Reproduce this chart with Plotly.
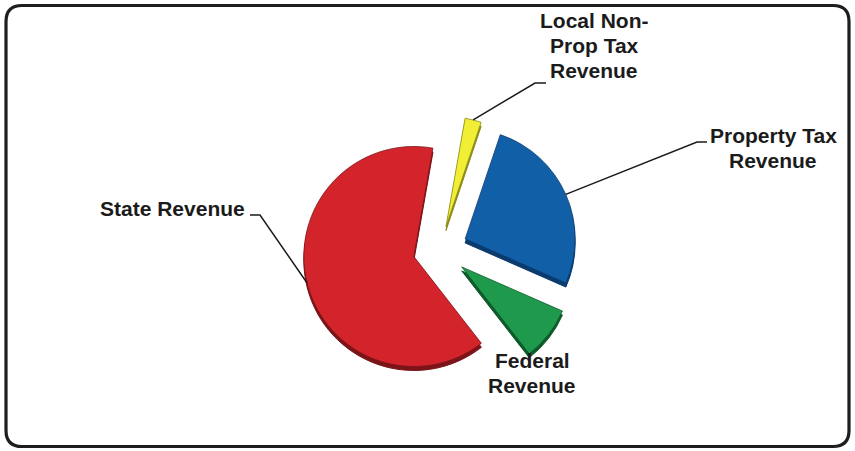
import math
import plotly.graph_objects as go

# Revenue sources (percent of total), listed clockwise from the starting angle
labels = ["Local Non-Prop Tax Revenue", "Property Tax Revenue", "Federal Revenue", "State Revenue"]
values = [2.4, 26.4, 7.9, 63.3]
pulls = [0.22, 0.25, 0.25, 0.245]
colors = ["#f1ee36", "#115fa6", "#1f9a4c", "#d3232b"]
edge_colors = ["#8c8a14", "#0a3a6e", "#0e5a2a", "#7a1418"]
label_lines = [
    ["Local Non-", "Prop Tax", "Revenue"],
    ["Property Tax", "Revenue"],
    ["Federal", "Revenue"],
    ["State Revenue"],
]

W, H = 855, 451
START_ANGLE = 10          # degrees clockwise from 12 o'clock
CX, CY = 440, 250         # pie centre in pixels
BOX = 275                 # side of the square the pie is fitted into
DEPTH = 4                 # thickness of the darker "3D" rim
FONT = dict(family="Arial, Liberation Sans, sans-serif", size=21, color="#1b1b1b", weight="bold")
LINE_STEP = 25            # px between label lines

# label block centres (px) and the leader-line elbows that start at the label
label_centres = [(594, 45.5), (773, 148), (532, 372.5), (172.5, 209)]
leader_elbows = [
    [(546, 83), (535, 83)],
    [(707, 142), (697, 142)],
    None,
    [(250, 215), (260, 215)],
]


def px(x, y):
    return x / W, 1 - y / H


def domain(cx, cy):
    return dict(x=[(cx - BOX / 2) / W, (cx + BOX / 2) / W],
                y=[1 - (cy + BOX / 2) / H, 1 - (cy - BOX / 2) / H])


radius = BOX / 2 / (1 + max(pulls))
total = sum(values)


def rim_point(i):
    """Point on the outer rim of slice i, at its mid angle, after the pull."""
    before = sum(values[:i])
    mid = math.radians(START_ANGLE + 360 * (before + values[i] / 2) / total)
    dist = radius * (1 + pulls[i])
    return CX + dist * math.sin(mid), CY - dist * math.cos(mid)


fig = go.Figure()

# darker copy underneath gives the slices their thickness
fig.add_trace(go.Pie(
    labels=labels, values=values, pull=pulls, sort=False,
    direction="clockwise", rotation=START_ANGLE,
    marker=dict(colors=edge_colors, line=dict(color=edge_colors, width=1)),
    textinfo="none", hoverinfo="skip", showlegend=False,
    domain=domain(CX, CY + DEPTH),
))
fig.add_trace(go.Pie(
    labels=labels, values=values, pull=pulls, sort=False,
    direction="clockwise", rotation=START_ANGLE,
    marker=dict(colors=colors, line=dict(color=edge_colors, width=0.8)),
    textinfo="none", hoverinfo="label+percent", showlegend=False,
    domain=domain(CX, CY),
))

annotations = []
shapes = []
for i, lines in enumerate(label_lines):
    lx, ly = label_centres[i]
    n = len(lines)
    for k, line in enumerate(lines):
        yy = ly + (k - (n - 1) / 2) * LINE_STEP
        x, y = px(lx, yy)
        annotations.append(dict(
            x=x, y=y, xref="paper", yref="paper", text=line, showarrow=False,
            xanchor="center", yanchor="middle", font=FONT,
        ))
    if leader_elbows[i]:
        pts = leader_elbows[i] + [rim_point(i)]
        path = "M " + " L ".join("{:.5f},{:.5f}".format(*px(*p)) for p in pts)
        shapes.append(dict(type="path", path=path, xref="paper", yref="paper",
                           line=dict(color="#1b1b1b", width=1.5)))

# rounded frame around the chart
L, T, R, B, RAD = 6, 5.5, 849, 446.5, 16
frame_pts = [
    ("M", [(L + RAD, T)]), ("L", [(R - RAD, T)]), ("Q", [(R, T), (R, T + RAD)]),
    ("L", [(R, B - RAD)]), ("Q", [(R, B), (R - RAD, B)]), ("L", [(L + RAD, B)]),
    ("Q", [(L, B), (L, B - RAD)]), ("L", [(L, T + RAD)]), ("Q", [(L, T), (L + RAD, T)]),
]
frame_path = " ".join(
    cmd + " " + " ".join("{:.5f},{:.5f}".format(*px(*p)) for p in pts) for cmd, pts in frame_pts
) + " Z"
shapes.append(dict(type="path", path=frame_path, xref="paper", yref="paper",
                   line=dict(color="#1e1e1e", width=3.2)))

fig.update_layout(
    width=W, height=H, margin=dict(l=0, r=0, t=0, b=0),
    paper_bgcolor="white", plot_bgcolor="white",
    annotations=annotations, shapes=shapes,
)

fig.write_html("out.html")
